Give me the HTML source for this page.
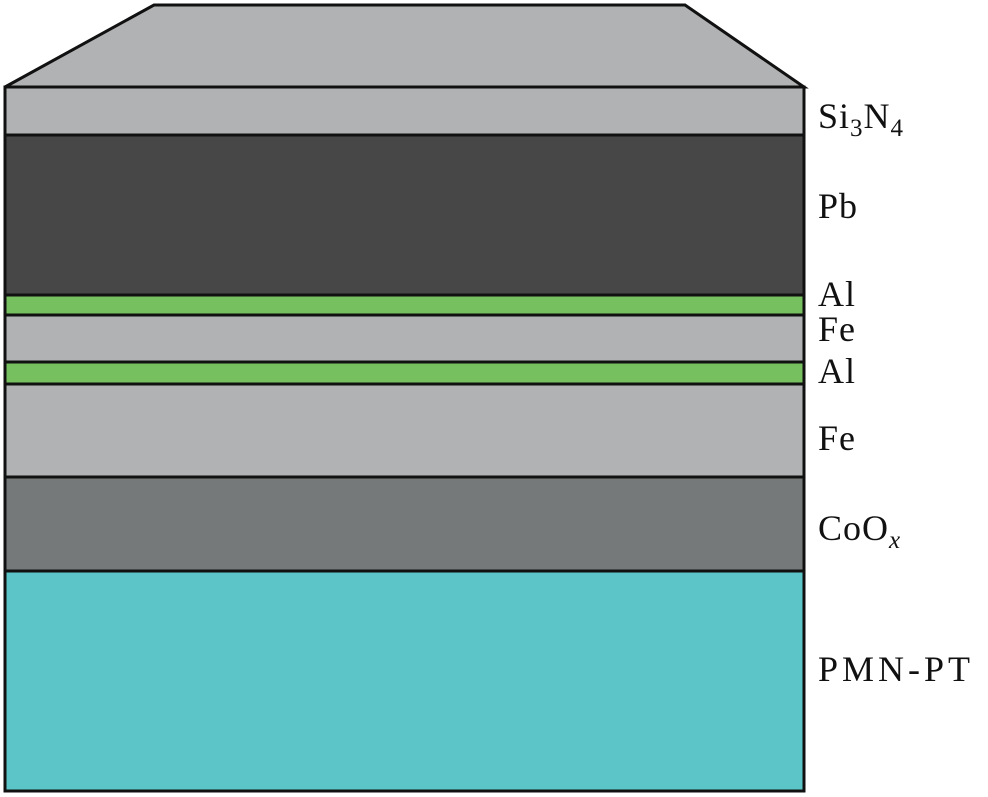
<!DOCTYPE html>
<html><head><style>html,body{margin:0;padding:0;background:#fff;}svg{display:block}</style></head>
<body>
<svg width="988" height="797" viewBox="0 0 988 797" xmlns="http://www.w3.org/2000/svg">
<g stroke="#111" stroke-width="3">
<polygon points="5,87 154,5 685,5 804,87" fill="#b1b2b4"/>
<rect x="5" y="87" width="799" height="48" fill="#b1b2b4"/>
<rect x="5" y="135" width="799" height="160" fill="#474747"/>
<rect x="5" y="295" width="799" height="20" fill="#77c05f"/>
<rect x="5" y="315" width="799" height="47" fill="#b1b2b4"/>
<rect x="5" y="362" width="799" height="22" fill="#77c05f"/>
<rect x="5" y="384" width="799" height="93" fill="#b1b2b4"/>
<rect x="5" y="477" width="799" height="94" fill="#767979"/>
<rect x="5" y="571" width="799" height="220" fill="#5bc5c7"/>
</g>
<g font-family="Liberation Serif, serif" font-size="36" fill="#111" letter-spacing="1">
<text x="818" y="128">Si<tspan font-size="25" dy="8">3</tspan><tspan dy="-8">N</tspan><tspan font-size="25" dy="8">4</tspan></text>
<text x="818" y="218">Pb</text>
<text x="818" y="306">Al</text>
<text x="818" y="341">Fe</text>
<text x="818" y="383">Al</text>
<text x="818" y="450">Fe</text>
<text x="818" y="540">CoO<tspan font-size="25" font-style="italic" dy="8">x</tspan></text>
<text x="818" y="681" letter-spacing="4">PMN-PT</text>
</g>
</svg>
</body></html>
